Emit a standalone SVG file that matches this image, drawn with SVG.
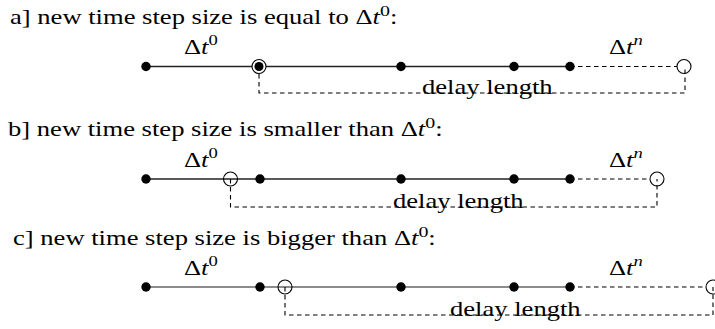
<svg xmlns="http://www.w3.org/2000/svg" width="715" height="329" viewBox="0 0 715 329">
<style>
text{font-family:"Liberation Serif","Times New Roman",serif;fill:#000}
.title{font-size:20px}
.lbl{font-size:20px}
.sup{font-size:14px}
.tsup{font-size:15px}
.it{font-style:italic}
.solid{stroke:#222;stroke-width:1.3;fill:none}
.solidc{stroke:#666;stroke-width:1.5;fill:none}
.dash{stroke:#000;stroke-width:1.1;fill:none;stroke-dasharray:4.5 3.5}
.dot{fill:#000}
.open{fill:none;stroke:#000;stroke-width:1.1}
.ring{fill:#fff;stroke:#000;stroke-width:1.1}
</style>
<rect width="715" height="329" fill="#fff"/>

<!-- Row a -->
<g id="row-a">
<text class="title" transform="translate(10,23.5) scale(1.33,1)">a] new time step size is equal to Δ<tspan class="it">t</tspan><tspan class="tsup" dy="-8">0</tspan><tspan dy="8">:</tspan></text>
<g id="a-connectors">
<line class="solid" x1="146" y1="66.5" x2="570" y2="66.5"/>
<line class="dash" x1="570" y1="66.5" x2="677" y2="66.5"/>
<polyline class="dash" points="259,74 259,93 685,93 685,66.5"/>
</g>
<g id="a-nodes">
<circle class="dot" cx="146" cy="66.5" r="4.7"/>
<circle class="ring" cx="259" cy="66.5" r="7"/>
<circle class="dot" cx="259" cy="66.5" r="4.5"/>
<circle class="dot" cx="401" cy="66.5" r="4.7"/>
<circle class="dot" cx="514" cy="66.5" r="4.7"/>
<circle class="dot" cx="570" cy="66.5" r="4.7"/>
<circle class="open" cx="684" cy="66.5" r="7"/>
</g>
<text class="lbl" transform="translate(184,54) scale(1.33,1)">Δ<tspan class="it">t</tspan><tspan class="sup" dy="-9">0</tspan></text>
<text class="lbl" transform="translate(609,53.5) scale(1.33,1)">Δ<tspan class="it">t</tspan><tspan class="sup it" dy="-9">n</tspan></text>
<text class="title" transform="translate(422,93.5) scale(1.33,1)">delay length</text>
</g>

<!-- Row b -->
<g id="row-b">
<text class="title" transform="translate(8,136) scale(1.33,1)">b] new time step size is smaller than Δ<tspan class="it">t</tspan><tspan class="tsup" dy="-8">0</tspan><tspan dy="8">:</tspan></text>
<g id="b-connectors">
<line class="solid" x1="146" y1="179" x2="570" y2="179"/>
<line class="dash" x1="570" y1="179" x2="650" y2="179"/>
<polyline class="dash" points="230.5,179 230.5,207 657,207 657,179"/>
</g>
<g id="b-nodes">
<circle class="dot" cx="146" cy="179" r="4.7"/>
<circle class="open" cx="230.5" cy="179" r="7"/>
<circle class="dot" cx="260" cy="179" r="4.7"/>
<circle class="dot" cx="401" cy="179" r="4.7"/>
<circle class="dot" cx="514" cy="179" r="4.7"/>
<circle class="dot" cx="570" cy="179" r="4.7"/>
<circle class="open" cx="657" cy="179" r="7"/>
</g>
<text class="lbl" transform="translate(184,166.5) scale(1.33,1)">Δ<tspan class="it">t</tspan><tspan class="sup" dy="-9">0</tspan></text>
<text class="lbl" transform="translate(609,166.5) scale(1.33,1)">Δ<tspan class="it">t</tspan><tspan class="sup it" dy="-9">n</tspan></text>
<text class="title" transform="translate(393,207.5) scale(1.33,1)">delay length</text>
</g>

<!-- Row c -->
<g id="row-c">
<text class="title" transform="translate(13,245) scale(1.33,1)">c] new time step size is bigger than Δ<tspan class="it">t</tspan><tspan class="tsup" dy="-8">0</tspan><tspan dy="8">:</tspan></text>
<g id="c-connectors">
<line class="solidc" x1="146" y1="287" x2="570" y2="287"/>
<line class="dash" x1="570" y1="287" x2="706" y2="287"/>
<polyline class="dash" points="285,287 285,315 713,315 713,287"/>
</g>
<g id="c-nodes">
<circle class="dot" cx="146" cy="287" r="4.7"/>
<circle class="dot" cx="260" cy="287" r="4.7"/>
<circle class="open" cx="285" cy="287" r="7"/>
<circle class="dot" cx="401" cy="287" r="4.7"/>
<circle class="dot" cx="514" cy="287" r="4.7"/>
<circle class="dot" cx="570" cy="287" r="4.7"/>
<circle class="open" cx="713" cy="287" r="7"/>
</g>
<text class="lbl" transform="translate(184,275) scale(1.33,1)">Δ<tspan class="it">t</tspan><tspan class="sup" dy="-9">0</tspan></text>
<text class="lbl" transform="translate(609,275) scale(1.33,1)">Δ<tspan class="it">t</tspan><tspan class="sup it" dy="-9">n</tspan></text>
<text class="title" transform="translate(450,315.5) scale(1.33,1)">delay length</text>
</g>
</svg>
